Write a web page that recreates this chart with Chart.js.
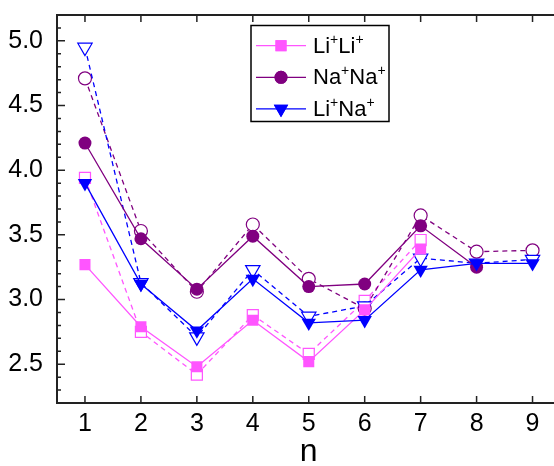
<!DOCTYPE html>
<html>
<head>
<meta charset="utf-8">
<script src="https://cdn.jsdelivr.net/npm/chart.js@4.4.1/dist/chart.umd.min.js"></script>
<style>
  html, body { margin: 0; padding: 0; overflow: hidden; background: #fff; }
  canvas { display: block; }
</style>
</head>
<body>
<canvas id="grafico" width="570" height="466"></canvas>
<script>
// n = 1..9
const nVals = [1, 2, 3, 4, 5, 6, 7, 8, 9];
const yTicks = [2.5, 3.0, 3.5, 4.0, 4.5, 5.0];

// filled markers, solid lines
const liliSolid = [3.27, 2.79, 2.48, 2.84, 2.52, 2.92, 3.39];
const nanaSolid = [4.21, 3.47, 3.08, 3.49, 3.10, 3.12, 3.57, 3.25];
const linaSolid = [3.90, 3.12, 2.76, 3.16, 2.82, 2.84, 3.23, 3.28, 3.28];

// open markers, dashed lines
const liliOpen = [3.94, 2.75, 2.42, 2.88, 2.58, 2.99, 3.46];
const nanaOpen = [4.71, 3.53, 3.06, 3.58, 3.16, 2.93, 3.65, 3.37, 3.38];
const linaOpen = [4.95, 3.13, 2.71, 3.23, 2.87, 2.95, 3.32, 3.28, 3.31];

const rosa = '#ff55ff';
const morado = '#800080';
const azul = '#0000ff';

function puntos(vals) {
  return vals.map((v, i) => ({ x: nVals[i], y: v }));
}

function serie(vals, color, estilo, radio, abierta) {
  return {
    data: puntos(vals),
    borderColor: color,
    borderWidth: 1.3,
    borderDash: abierta ? [5, 4] : [],
    pointStyle: estilo,
    pointRotation: estilo === 'triangle' ? 180 : 0,
    pointRadius: radio,
    pointHoverRadius: radio,
    pointBackgroundColor: abierta ? '#ffffff' : color,
    pointBorderColor: color,
    pointBorderWidth: abierta ? 1.2 : 0,
    tension: 0,
    fill: false
  };
}

// marcos y ticks hacia dentro
const marco = {
  id: 'marco',
  beforeDatasetsDraw(chart) {
    const { ctx, chartArea: a, scales } = chart;
    ctx.save();
    ctx.strokeStyle = '#222';
    ctx.lineWidth = 1.5;
    ctx.beginPath();
    nVals.forEach(v => {
      const x = scales.x.getPixelForValue(v);
      ctx.moveTo(x, a.bottom); ctx.lineTo(x, a.bottom - 7);
      ctx.moveTo(x, a.top); ctx.lineTo(x, a.top + 7);
    });
    for (let k = 23; k <= 51; k++) {
      const v = k / 10;
      const y = scales.y.getPixelForValue(v);
      const largo = k % 5 === 0 ? 8 : 4;
      ctx.moveTo(a.left, y); ctx.lineTo(a.left + largo, y);
    }
    ctx.stroke();
    ctx.lineWidth = 2;
    ctx.strokeRect(a.left, a.top, a.right - a.left, a.bottom - a.top);
    ctx.restore();
  }
};

// leyenda con superindices
const leyenda = {
  id: 'leyenda',
  afterDraw(chart) {
    const ctx = chart.ctx;
    const filas = [
      { partes: ['Li', 'Li'], color: rosa, estilo: 'rect', radio: 7.8 },
      { partes: ['Na', 'Na'], color: morado, estilo: 'circle', radio: 6.5 },
      { partes: ['Li', 'Na'], color: azul, estilo: 'triangle', radio: 8.3 }
    ];
    ctx.save();
    ctx.fillStyle = '#fff';
    ctx.fillRect(251, 25.5, 138, 96);
    ctx.strokeStyle = '#000';
    ctx.lineWidth = 1.5;
    ctx.strokeRect(251, 25.5, 138, 96);
    filas.forEach((f, i) => {
      const base = 52.7 + i * 31.6;
      const cy = base - 7;
      ctx.strokeStyle = f.color;
      ctx.lineWidth = 1.3;
      ctx.beginPath();
      ctx.moveTo(256, cy); ctx.lineTo(306, cy);
      ctx.stroke();
      ctx.fillStyle = f.color;
      Chart.helpers.drawPoint(ctx, {
        pointStyle: f.estilo,
        rotation: f.estilo === 'triangle' ? 180 : 0,
        radius: f.radio,
        borderWidth: 0
      }, 281, cy);
      ctx.fill();
      ctx.fillStyle = '#000';
      ctx.textBaseline = 'alphabetic';
      ctx.textAlign = 'left';
      let x = 313;
      f.partes.forEach(p => {
        ctx.font = '22px "Liberation Sans", Arial, sans-serif';
        ctx.fillText(p, x, base);
        x += ctx.measureText(p).width;
        ctx.font = '14px "Liberation Sans", Arial, sans-serif';
        ctx.fillText('+', x, base - 9);
        x += ctx.measureText('+').width;
      });
    });
    ctx.restore();
  }
};

const fuente = { family: '"Liberation Sans", Arial, sans-serif', size: 25 };

new Chart(document.getElementById('grafico'), {
  type: 'line',
  data: {
    datasets: [
      serie(linaSolid, azul, 'triangle', 8.3, false),
      serie(nanaSolid, morado, 'circle', 6.5, false),
      serie(liliSolid, rosa, 'rect', 7.8, false),
      serie(linaOpen, azul, 'triangle', 8.3, true),
      serie(nanaOpen, morado, 'circle', 6.5, true),
      serie(liliOpen, rosa, 'rect', 7.8, true)
    ]
  },
  options: {
    responsive: false,
    animation: false,
    layout: { padding: { top: 15, right: 8, bottom: 0, left: 0 } },
    plugins: {
      legend: { display: false },
      tooltip: { enabled: false }
    },
    scales: {
      x: {
        type: 'linear',
        min: 0.5,
        max: 9.5,
        grid: { display: false, drawTicks: false },
        border: { display: false },
        afterBuildTicks: s => { s.ticks = nVals.map(v => ({ value: v })); },
        afterFit: s => { s.height = 63; s.paddingLeft = 0; s.paddingRight = 0; },
        ticks: { color: '#000', font: fuente, padding: 6, maxRotation: 0 },
        title: {
          display: true,
          text: 'n',
          color: '#000',
          font: { family: '"Liberation Sans", Arial, sans-serif', size: 32, lineHeight: 0.8 },
          padding: { top: 0, bottom: 1 }
        }
      },
      y: {
        min: 2.2,
        max: 5.2,
        grid: { display: false, drawTicks: false },
        border: { display: false },
        afterBuildTicks: s => { s.ticks = yTicks.map(v => ({ value: v })); },
        afterFit: s => { s.width = 57; s.paddingTop = 0; s.paddingBottom = 0; },
        ticks: { color: '#000', font: fuente, padding: 14, callback: v => v.toFixed(1) }
      }
    }
  },
  plugins: [marco, leyenda]
});
</script>
</body>
</html>
